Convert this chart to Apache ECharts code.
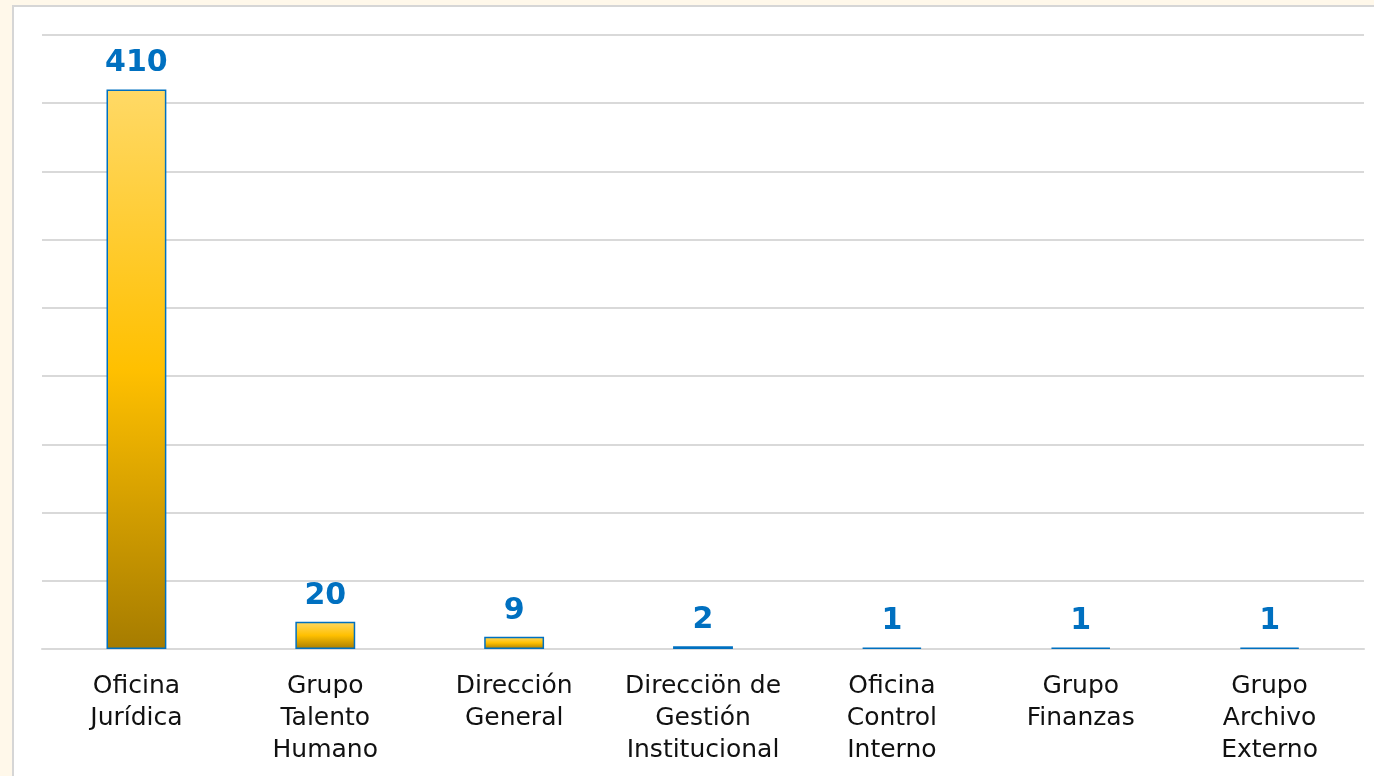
<!DOCTYPE html>
<html>
<head>
<meta charset="utf-8">
<script src="https://cdn.jsdelivr.net/npm/echarts@6/dist/echarts.min.js"></script>
<style>
html,body{margin:0;padding:0;background:#FFF8EA;}
#chart{width:1374px;height:776px;}
</style>
</head>
<body>
<div id="chart"></div>
<script>
const categories = ['Oficina\nJurídica', 'Grupo\nTalento\nHumano', 'Dirección\nGeneral', 'Direcciön de\nGestión\nInstitucional', 'Oficina\nControl\nInterno', 'Grupo\nFinanzas', 'Grupo\nArchivo\nExterno'];
const values = [410, 20, 9, 2, 1, 1, 1];

const chart = echarts.init(document.getElementById('chart'));
chart.setOption({
  backgroundColor: '#FFF8EA',
  animation: false,
  graphic: [{
    type: 'rect', z: -10, silent: true,
    shape: { x: 13, y: 6, width: 1400, height: 800 },
    style: { fill: '#FFFFFF', stroke: '#D6D6D6', lineWidth: 2 }
  }],
  grid: { left: 42, right: 10, top: 35, bottom: 127, containLabel: false },
  xAxis: {
    type: 'category',
    data: categories,
    axisLine: { show: true, lineStyle: { color: '#D9D9D9', width: 2 } },
    axisTick: { show: false },
    axisLabel: {
      interval: 0, margin: 21,
      fontFamily: 'DejaVu Sans', fontSize: 25, color: '#111111', lineHeight: 32
    }
  },
  yAxis: {
    type: 'value', min: 0, max: 450, interval: 50,
    axisLine: { show: false }, axisTick: { show: false },
    axisLabel: { show: false },
    splitLine: { lineStyle: { color: '#D9D9D9', width: 2 } }
  },
  series: [{
    type: 'bar',
    data: values,
    barWidth: '31.7%',
    itemStyle: {
      color: new echarts.graphic.LinearGradient(0, 0, 0, 1, [
        { offset: 0, color: '#FFD966' },
        { offset: 0.5, color: '#FFC000' },
        { offset: 1, color: '#A67C00' }
      ]),
      borderColor: '#0070C0', borderWidth: 1.5
    },
    label: {
      show: true, position: 'top', distance: 11,
      fontFamily: 'DejaVu Sans', fontWeight: 'bold', fontSize: 30, color: '#0070C0'
    }
  }]
});
</script>
</body>
</html>
